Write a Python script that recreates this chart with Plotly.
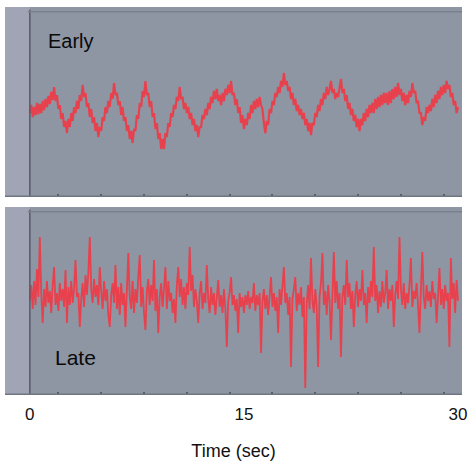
import plotly.graph_objects as go

# ---- data (0.1 s sampling, arbitrary amplitude units) ----
t_step = 0.1
early = [
    80, 88, 76, 86, 78, 90, 79, 89, 80, 92,
    83, 94, 86, 97, 89, 101, 93, 106, 92, 98,
    84, 88, 74, 80, 66, 72, 60, 74, 66, 80,
    72, 86, 80, 92, 84, 98, 92, 108, 96, 100,
    86, 90, 76, 84, 70, 76, 62, 70, 56, 66,
    62, 76, 72, 86, 80, 92, 86, 100, 94, 110,
    98, 100, 88, 92, 78, 86, 72, 76, 62, 68,
    54, 62, 50, 64, 62, 78, 74, 90, 86, 102,
    96, 112, 98, 100, 86, 92, 76, 80, 64, 70,
    54, 60, 44, 54, 44, 60, 56, 70, 66, 80,
    76, 88, 84, 96, 92, 106, 94, 96, 84, 90,
    80, 86, 74, 80, 68, 74, 62, 68, 56, 66,
    66, 78, 74, 84, 78, 90, 84, 96, 90, 102,
    94, 104, 92, 98, 88, 100, 92, 104, 98, 108,
    100, 112, 98, 100, 88, 94, 80, 86, 70, 78,
    64, 74, 68, 80, 74, 88, 80, 92, 84, 94,
    86, 96, 88, 84, 70, 60, 72, 68, 84, 80,
    92, 88, 100, 96, 106, 100, 112, 106, 120, 108,
    112, 102, 106, 94, 100, 88, 94, 82, 88, 78,
    84, 74, 80, 68, 74, 62, 70, 58, 70, 68,
    80, 76, 88, 82, 94, 88, 100, 94, 106, 98,
    104, 112, 100, 104, 94, 100, 96, 108, 114, 100,
    104, 92, 98, 84, 90, 78, 84, 72, 78, 66,
    74, 62, 74, 68, 80, 72, 84, 76, 88, 80,
    90, 80, 94, 84, 96, 86, 98, 88, 100, 90,
    100, 88, 102, 90, 104, 94, 106, 96, 110, 98,
    104, 92, 100, 88, 98, 90, 102, 96, 110, 100,
    102, 90, 92, 80, 80, 68, 76, 72, 86, 80,
    88, 82, 94, 86, 98, 90, 102, 94, 106, 98,
    108, 100, 112, 104, 108, 96, 100, 88, 92, 80, 86,
]
late = [
    92, 108, 84, 112, 88, 124, 96, 156, 100, 70,
    104, 86, 112, 90, 102, 80, 108, 126, 88, 100,
    82, 110, 92, 104, 86, 123, 70, 106, 88, 112,
    90, 104, 133, 96, 100, 66, 94, 110, 86, 118,
    98, 120, 156, 104, 90, 114, 96, 108, 88, 126,
    102, 84, 112, 92, 104, 78, 66, 98, 110, 90,
    128, 84, 106, 78, 110, 88, 100, 66, 104, 140,
    96, 84, 112, 80, 104, 90, 116, 138, 86, 106,
    80, 63, 102, 114, 88, 108, 92, 133, 82, 104,
    60, 96, 110, 86, 104, 126, 84, 112, 92, 100,
    80, 94, 70, 108, 126, 96, 114, 88, 106, 84,
    110, 98, 146, 102, 118, 86, 104, 92, 70, 100,
    112, 84, 100, 90, 128, 94, 80, 106, 88, 100,
    78, 96, 113, 86, 98, 80, 104, 84, 46, 92,
    100, 116, 88, 98, 82, 94, 60, 100, 86, 96,
    80, 98, 88, 102, 84, 96, 90, 110, 82, 98,
    88, 100, 40, 92, 104, 84, 98, 78, 102, 116,
    86, 100, 82, 96, 60, 104, 88, 108, 126, 90,
    100, 78, 96, 26, 94, 104, 116, 82, 100, 88,
    106, 76, 96, 5, 90, 108, 84, 135, 92, 80,
    104, 86, 26, 96, 110, 140, 88, 102, 78, 108,
    92, 53, 104, 141, 90, 112, 84, 100, 36, 96,
    108, 88, 133, 96, 110, 84, 102, 66, 98, 112,
    86, 104, 92, 123, 88, 100, 70, 106, 90, 112,
    96, 146, 92, 108, 80, 102, 86, 112, 90, 100,
    123, 84, 104, 92, 108, 66, 98, 112, 94, 156,
    104, 88, 110, 84, 100, 90, 108, 135, 86, 102,
    94, 110, 88, 60, 104, 141, 96, 84, 108, 92,
    102, 86, 112, 94, 100, 70, 96, 125, 88, 104,
    84, 108, 92, 100, 46, 135, 94, 110, 80, 113, 92,
]
time = [round(i * t_step, 1) for i in range(len(early))]
panel_labels = ["Early", "Late"]
x_tick_vals = [0, 15, 30]
x_tick_text = ["0", "15", "30"]
minor_tick_vals = [2, 5, 8, 11, 14, 17, 20, 23, 26, 29]

PANEL = "#8e96a3"
STRIP = "#a1a4b4"
EDGE = "#555c66"
RED = "#e8414e"

fig = go.Figure()
fig.add_trace(go.Scatter(x=time, y=early, mode="lines", line=dict(color=RED, width=2.2),
                         xaxis="x", yaxis="y", hoverinfo="skip"))
fig.add_trace(go.Scatter(x=time, y=late, mode="lines", line=dict(color=RED, width=1.8),
                         xaxis="x2", yaxis="y2", hoverinfo="skip"))

xr = [-1.74, 30.28]
common_x = dict(range=xr, showgrid=False, zeroline=False, showline=False, fixedrange=True)
fig.update_layout(
    width=472, height=463,
    margin=dict(l=5, r=6, t=7, b=68),
    paper_bgcolor="white", plot_bgcolor=PANEL,
    showlegend=False,
    font=dict(family="Liberation Sans, Arial, sans-serif", color="#111"),
    xaxis=dict(**common_x, anchor="y", showticklabels=False, ticks="",
               minor=dict(tickvals=minor_tick_vals, ticks="inside", ticklen=3,
                          tickwidth=2, tickcolor=EDGE)),
    yaxis=dict(domain=[0.5103, 1.0], range=[-4, 186], showgrid=False, zeroline=False,
               showticklabels=False, ticks="", fixedrange=True),
    xaxis2=dict(**common_x, anchor="y2", tickvals=x_tick_vals, ticktext=x_tick_text,
                ticks="", tickfont=dict(size=17, color="#111"), ticklabelstandoff=7,
                minor=dict(tickvals=minor_tick_vals, ticks="inside", ticklen=3,
                           tickwidth=2, tickcolor=EDGE),
                title=dict(text="Time (sec)", font=dict(size=18, color="#111"), standoff=21)),
    yaxis2=dict(domain=[0.0, 0.4845], range=[-2, 186], showgrid=False, zeroline=False,
                showticklabels=False, ticks="", fixedrange=True),
)

shapes = []
for xa, ya in (("x", "y"), ("x2", "y2")):
    # lighter strip left of the time origin
    shapes.append(dict(type="rect", xref=xa, yref=f"{ya} domain", x0=xr[0], x1=0,
                       y0=0, y1=1, fillcolor=STRIP, line=dict(width=0), layer="below"))
    # left axis line at t = 0
    shapes.append(dict(type="line", xref=xa, yref=f"{ya} domain", x0=0, x1=0, y0=0, y1=0.985,
                       line=dict(color=EDGE, width=1.5)))
    # top edge line
    shapes.append(dict(type="line", xref=f"{xa} domain", yref=f"{ya} domain", x0=0.05, x1=1,
                       y0=0.975, y1=0.975, line=dict(color="#7a818c", width=1.5)))
    # bottom edge line
    shapes.append(dict(type="line", xref=f"{xa} domain", yref=f"{ya} domain", x0=0, x1=1,
                       y0=0.004, y1=0.004, line=dict(color="#6f7680", width=1.5)))
fig.update_layout(shapes=shapes)

fig.add_annotation(x=1.1, y=0.82, xref="x", yref="y domain", text=panel_labels[0],
                   showarrow=False, xanchor="left", yanchor="middle",
                   font=dict(size=20, color="#0a0a0a"))
fig.add_annotation(x=1.6, y=0.20, xref="x2", yref="y2 domain", text=panel_labels[1],
                   showarrow=False, xanchor="left", yanchor="middle",
                   font=dict(size=21, color="#0a0a0a"))

fig.write_html("out.html", config={"displayModeBar": False},
               post_script="document.body.style.margin='0';")
